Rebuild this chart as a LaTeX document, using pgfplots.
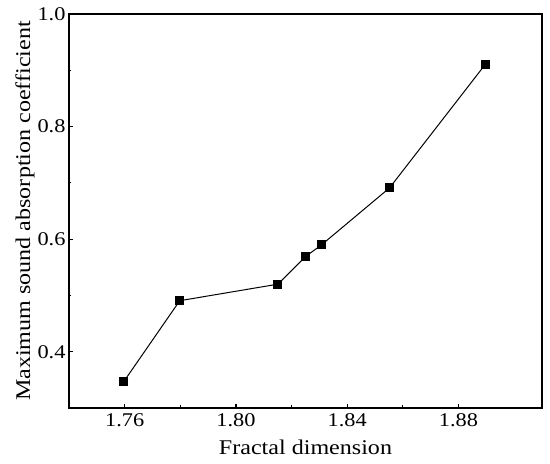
\documentclass[border=0pt]{standalone}
\usepackage{fontspec}
\setmainfont[FakeStretch=1.15]{Liberation Serif}
\usepackage{pgfplots}
\pgfplotsset{compat=1.18}
\begin{document}
\begin{tikzpicture}
\begin{axis}[
  scale only axis,
  width=473bp, height=394bp,
  xmin=1.74, xmax=1.91,
  ymin=0.3, ymax=1.0,
  xtick={1.76,1.80,1.84,1.88},
  ytick={0.4,0.6,0.8,1.0},
  minor x tick num=1,
  minor y tick num=1,
  x tick label style={/tikz/yshift=-2bp, /pgf/number format/fixed, /pgf/number format/fixed zerofill, /pgf/number format/precision=2},
  y tick label style={/pgf/number format/fixed, /pgf/number format/fixed zerofill, /pgf/number format/precision=1},
  /pgf/number format/assume math mode=true,
  tick pos=left,
  tick align=inside,
  major tick length=4bp,
  minor tick length=2.5bp,
  axis line style={line width=1.3pt},
  tick style={line width=1.2pt, black},
  tick label style={font=\fontsize{19.5}{22}\selectfont},
  every axis x label/.style={at={(axis description cs:0.5,0)}, anchor=center, yshift=-39bp, font=\fontsize{21}{24}\selectfont},
  every axis y label/.style={at={(axis description cs:0,0.5)}, xshift=-44bp, anchor=center, rotate=90, font=\fontsize{21}{24}\selectfont},
  xlabel={Fractal dimension},
  ylabel={Maximum sound absorption coefficient},
]
\addplot[black, line width=1pt, mark=square*, mark size=4bp, mark options={solid}]
coordinates {
(1.7597,0.347)
(1.7798,0.4906)
(1.8151,0.520)
(1.8250,0.569)
(1.8308,0.590)
(1.8552,0.691)
(1.8897,0.911)
};
\end{axis}
\pgfresetboundingbox
\path[use as bounding box] ([shift={(-69bp,-56bp)}]current axis.south west) rectangle ([shift={(8bp,14bp)}]current axis.north east);
\end{tikzpicture}
\end{document}
